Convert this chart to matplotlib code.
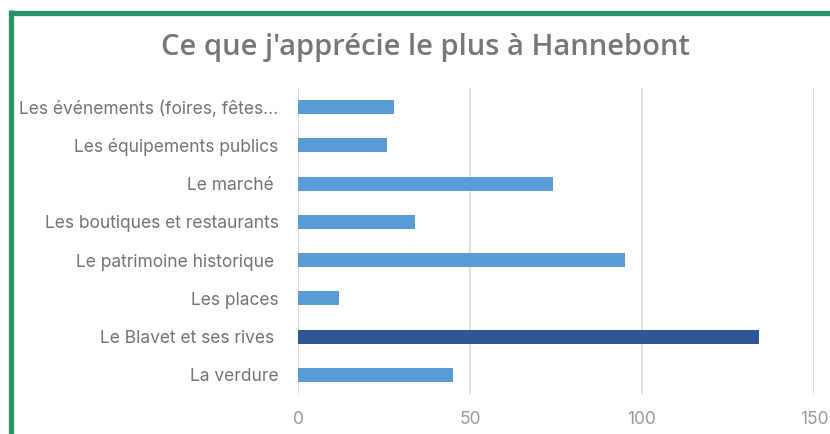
import matplotlib.pyplot as plt
from matplotlib.lines import Line2D

categories = [
    "Les événements (foires, fêtes...",
    "Les équipements publics",
    "Le marché ",
    "Les boutiques et restaurants",
    "Le patrimoine historique ",
    "Les places",
    "Le Blavet et ses rives ",
    "La verdure",
]
values = [28, 26, 74, 34, 95, 12, 134, 45]
highlight = "Le Blavet et ses rives "
x_ticks = [0, 50, 100, 150]

plt.rcParams['font.family'] = ['Inter', 'DejaVu Sans']

fig = plt.figure(figsize=(8.3, 4.34), dpi=100)
ax = fig.add_axes([298 / 830, 1 - 394 / 434, (814 - 298) / 830, (394 - 88) / 434])

colors = ['#2f5597' if c == highlight else '#5b9bd5' for c in categories]
y_pos = list(range(len(categories)))
ax.barh(y_pos, values, height=0.36, color=colors, zorder=3)

ax.set_ylim(len(categories) - 0.5, -0.5)
ax.set_xlim(0, 150)
ax.set_yticks(y_pos)
ax.set_yticklabels(categories, fontsize=12.5, color='#737373')
ax.set_xticks(x_ticks)
ax.set_xticklabels([str(t) for t in x_ticks], fontsize=12.5, color='#999999')
ax.tick_params(axis='both', length=0)
ax.tick_params(axis='y', pad=14)
ax.tick_params(axis='x', pad=12)
ax.grid(axis='x', color='#d9d9d9', linewidth=1.2, zorder=0)
for s in ax.spines.values():
    s.set_visible(False)

fig.text(425 / 830, 1 - 47 / 434, "Ce que j'apprécie le plus à Hannebont",
         ha='center', va='center', fontsize=21, fontweight='semibold', color='#767676',
         family=['Open Sans', 'DejaVu Sans'])

# green frame on top and left
green = '#2b9466'
fig.add_artist(Line2D([8.5 / 830, 1], [1 - 12.5 / 434, 1 - 12.5 / 434],
                      transform=fig.transFigure, color=green, linewidth=3.8,
                      solid_capstyle='butt'))
fig.add_artist(Line2D([11 / 830, 11 / 830], [1 - 10 / 434, 0],
                      transform=fig.transFigure, color=green, linewidth=3.8,
                      solid_capstyle='butt'))

fig.savefig('out.png', dpi=100)
